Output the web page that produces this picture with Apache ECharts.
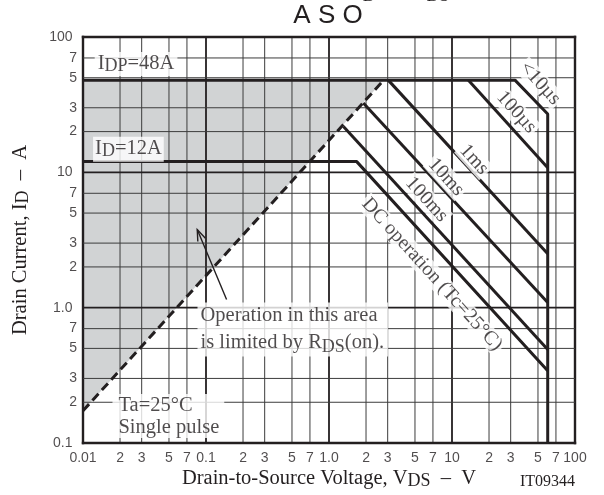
<!DOCTYPE html>
<html><head><meta charset="utf-8">
<script src="https://cdn.jsdelivr.net/npm/echarts@6/dist/echarts.min.js"></script>
<style>html,body{margin:0;padding:0;background:#fff}#c{width:604px;height:495px}</style>
</head><body><div id="c"></div>
<script>
// ---- tick values / labels ----
const xTicks = [0.01,0.02,0.03,0.05,0.07,0.1,0.2,0.3,0.5,0.7,1,2,3,5,7,10,20,30,50,70,100];
const xTickLabels = ['0.01','2','3','5','7','0.1','2','3','5','7','1.0','2','3','5','7','10','2','3','5','7','100'];
const yTicks = [0.1,0.2,0.3,0.5,0.7,1,2,3,5,7,10,20,30,50,70,100];
const yTickLabels = ['0.1','2','3','5','7','1.0','2','3','5','7','10','2','3','5','7','100'];

// ---- curves [VDS (V), ID (A)] ----
const pulse10us  = [[0.01,48],[32.5,48],[60,27],[60,0.1]];
const pulse100us = [[13.6,48],[60,10.8]];
const pulse1ms   = [[3.03,48],[60,2.5]];
const pulse10ms  = [[1.90,32.5],[60,1.09]];
const pulse100ms = [[1.31,21.8],[60,0.49]];
const dcOperation = [[0.01,12],[1.68,12],[60,0.342]];
const rdsOnLimit = [[0.01,0.173],[2.7,46.5]];
const rdsOnArea  = [[0.01,0.173],[0.01,48],[2.78,48]];
const arrowFromTo = [[0.147,1.15,0.0849,3.78]];

// ---- curve labels: anchor [V, A] and text ----
const curveLabelText = ['<10µs','100µs','1ms','10ms','100ms','DC operation (Tc=25°C)'];
const curveLabelAt = [[52,45.4],[33.4,27.8],[15.1,12.4],[8.93,9.22],[6.21,6.29],[6.87,1.76]];

const XMIN=0.01, XMAX=100, YMIN=0.1, YMAX=100;
const INK='#231f20', GRID='#3c3c3c', FILL='#d1d3d4';
const SERIF='"Liberation Serif","Times New Roman",serif';
const SANS='"Liberation Sans",Arial,sans-serif';
const isDecade = v => Math.abs(Math.log10(v) - Math.round(Math.log10(v))) < 1e-9;

function makeRich(L, fs, sfs){
  return {
    m:{fontFamily:SERIF,fontSize:fs,color:INK,fill:INK,lineHeight:L},
    s:{fontFamily:SERIF,fontSize:sfs,color:INK,fill:INK,lineHeight:L-12.5,verticalAlign:'bottom'}
  };
}

const chart = echarts.init(document.getElementById('c'));

const curveStyle = {color:INK,width:3};
function curve(data){
  return {type:'line',data:data,symbol:'none',silent:true,z:4,lineStyle:curveStyle,itemStyle:{color:INK}};
}

const annotations = [
  {value:[0.027,63.2], label:{position:'inside',formatter:'{m|I}{s|DP}{m|=48A}',rich:makeRich(22,20.5,18),backgroundColor:'#fff',padding:[1,3,1,3]}},
  {value:[0.0234,14.8], label:{position:'inside',formatter:'{m|I}{s|D}{m|=12A}',rich:makeRich(22,20.5,18),backgroundColor:'#fff',padding:[1,2,2,2]}},
  {value:[0.0845,0.690], label:{position:'right',distance:0,formatter:'{m|Operation in this area}\n{m|is limited by R}{s|DS}{m|(on).}',rich:makeRich(27,20.5,18),backgroundColor:'#fff',padding:[0,4,0,3]}},
  {value:[0.0172,0.158], label:{position:'right',distance:0,formatter:'{m|Ta=25°C}\n{m|Single pulse}',rich:makeRich(22,20.5,18),backgroundColor:'#fff',padding:[0,5,0,6]}}
].concat(curveLabelText.map((t,i)=>({
  value:curveLabelAt[i],
  label:{position:'inside',formatter:t,fontFamily:SERIF,fontSize:20,color:INK,rotate:-47.8,backgroundColor:'#fff',padding:[0,2,0,2]}
})));

const option = {
  animation:false,
  textStyle:{fontFamily:SANS},
  grid:{left:83,right:29,top:37,bottom:51,containLabel:false},
  xAxis:{type:'log',logBase:10,min:XMIN,max:XMAX,
    axisLine:{show:false},axisTick:{show:false},axisLabel:{show:false},splitLine:{show:false},
    name:'{m|Drain-to-Source Voltage, V}{s|DS}{m|  –  V}',nameLocation:'middle',nameGap:25,
    nameTextStyle:{rich:makeRich(22,20.5,18)}},
  yAxis:{type:'log',logBase:10,min:YMIN,max:YMAX,
    axisLine:{show:false},axisTick:{show:false},axisLabel:{show:false},splitLine:{show:false},
    name:'{m|Drain Current, I}{s|D}{m|  –  A}',nameLocation:'middle',nameGap:51,
    nameTextStyle:{rich:makeRich(22,20.5,18)}},
  graphic:[
    {type:'text',x:328,y:16,silent:true,style:{text:'A S O',fontFamily:SANS,fontSize:26,fill:INK,align:'center',verticalAlign:'middle'}},
    {type:'text',x:356,y:-17,silent:true,style:{text:'{m|I}{s|D}{m|  –   V}{s|DS}',rich:makeRich(22,20.5,18),align:'left',verticalAlign:'top'}},
    {type:'text',x:575,y:482,silent:true,style:{text:'IT09344',fontFamily:SERIF,fontSize:16,fill:INK,align:'right',verticalAlign:'middle'}}
  ],
  series:[
    // grey region limited by RDS(on)
    {type:'custom',z:1,silent:true,clip:true,data:rdsOnArea,encode:{x:0,y:1},
     renderItem:(params,api)=>{
       if(params.dataIndex!==0) return null;
       return {type:'polygon',shape:{points:rdsOnArea.map(p=>api.coord(p))},style:{fill:FILL}};
     }},
    // vertical grid
    {type:'custom',z:2,silent:true,clip:false,data:xTicks.map(v=>[v,YMIN,YMAX]),encode:{x:0,y:[1,2]},
     renderItem:(params,api)=>{
       const v=api.value(0);
       const a=api.coord([v,api.value(1)]), b=api.coord([v,api.value(2)]);
       const edge=(v===XMIN||v===XMAX);
       return {type:'line',shape:{x1:a[0],y1:a[1],x2:b[0],y2:b[1]},
         style:{stroke:isDecade(v)?INK:GRID,lineWidth:edge?2.4:(isDecade(v)?1.8:1),lineCap:edge?'square':'butt'}};
     }},
    // horizontal grid
    {type:'custom',z:2,silent:true,clip:false,data:yTicks.map(v=>[XMIN,XMAX,v]),encode:{x:[0,1],y:2},
     renderItem:(params,api)=>{
       const v=api.value(2);
       const a=api.coord([api.value(0),v]), b=api.coord([api.value(1),v]);
       const edge=(v===YMIN||v===YMAX);
       return {type:'line',shape:{x1:a[0],y1:a[1],x2:b[0],y2:b[1]},
         style:{stroke:isDecade(v)?INK:GRID,lineWidth:edge?2.4:(isDecade(v)?1.8:1),lineCap:edge?'square':'butt'}};
     }},
    curve(pulse10us), curve(pulse100us), curve(pulse1ms), curve(pulse10ms), curve(pulse100ms), curve(dcOperation),
    {type:'line',data:rdsOnLimit,symbol:'none',silent:true,z:4,lineStyle:{color:INK,width:3,type:[9,5]}},
    // arrow
    {type:'custom',z:6,silent:true,clip:false,data:arrowFromTo,encode:{x:[0,2],y:[1,3]},
     renderItem:(params,api)=>{
       const t=api.coord([api.value(0),api.value(1)]), h=api.coord([api.value(2),api.value(3)]);
       const dx=t[0]-h[0], dy=t[1]-h[1], L=Math.hypot(dx,dy), ux=dx/L, uy=dy/L;
       const ang=20*Math.PI/180, len=12;
       const r=(s)=>[h[0]+len*(ux*Math.cos(s*ang)-uy*Math.sin(s*ang)), h[1]+len*(ux*Math.sin(s*ang)+uy*Math.cos(s*ang))];
       return {type:'group',children:[
         {type:'line',shape:{x1:t[0],y1:t[1],x2:h[0],y2:h[1]},style:{stroke:INK,lineWidth:1.4}},
         {type:'polyline',shape:{points:[r(1),h,r(-1)]},style:{stroke:INK,lineWidth:1.4,fill:null}}
       ]};
     }},
    // x tick labels
    {type:'scatter',z:8,silent:true,clip:false,symbolSize:1,itemStyle:{color:'rgba(0,0,0,0)'},
     data:xTicks.map(v=>[v,YMIN]),
     label:{show:true,position:'bottom',distance:8,formatter:p=>xTickLabels[p.dataIndex],fontFamily:SANS,fontSize:14,color:INK}},
    // y tick labels
    {type:'scatter',z:8,silent:true,clip:false,symbolSize:1,itemStyle:{color:'rgba(0,0,0,0)'},
     data:yTicks.map(v=>({value:[XMIN,v],label:{distance:isDecade(v)?10:5.5}})),
     label:{show:true,position:'left',formatter:p=>yTickLabels[p.dataIndex],fontFamily:SANS,fontSize:14,color:INK}},
    // annotations
    {type:'scatter',z:10,silent:true,clip:false,symbolSize:1,itemStyle:{color:'rgba(0,0,0,0)'},
     data:annotations,label:{show:true,color:INK,fontFamily:SERIF}}
  ]
};
chart.setOption(option);
</script></body></html>
